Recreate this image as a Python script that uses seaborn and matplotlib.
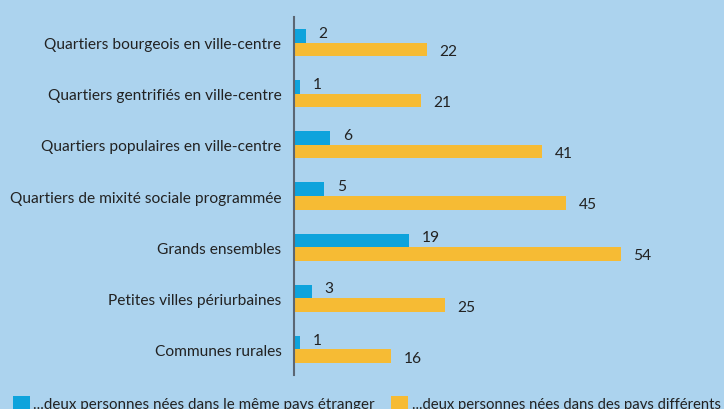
import matplotlib
matplotlib.use("Agg")
import matplotlib.pyplot as plt
import seaborn as sns
import pandas as pd
from matplotlib.patches import Rectangle

categories = [
    "Quartiers bourgeois en ville-centre",
    "Quartiers gentrifiés en ville-centre",
    "Quartiers populaires en ville-centre",
    "Quartiers de mixité sociale programmée",
    "Grands ensembles",
    "Petites villes périurbaines",
    "Communes rurales",
]
same_country = [2, 1, 6, 5, 19, 3, 1]
diff_country = [22, 21, 41, 45, 54, 25, 16]
series_names = [
    "...deux personnes nées dans le même pays étranger",
    "...deux personnes nées dans des pays différents",
]

bg = "#acd3ee"
colors = ["#0ea3dc", "#f6bb34"]

df = pd.DataFrame({
    "cat": categories * 2,
    "val": same_country + diff_country,
    "serie": [series_names[0]] * len(categories) + [series_names[1]] * len(categories),
})

sns.set_theme(style="white")
plt.rcParams["font.family"] = ["Lato", "DejaVu Sans"]

W, H = 724, 410
fig = plt.figure(figsize=(W / 100, H / 100), dpi=100, facecolor=bg)
ax = fig.add_axes([294 / W, 1 - 376 / H, 423.5 / W, 358 / H])
ax.set_facecolor(bg)

sns.barplot(data=df, y="cat", x="val", hue="serie", orient="h",
            palette=colors, width=0.53, ax=ax, legend=False,
            saturation=1, linewidth=0)

fs = 11.2
ax.set_xlim(0, 70)
ax.set_xlabel("")
ax.set_ylabel("")
ax.set_xticks([])
ax.tick_params(axis="y", length=0, pad=9, labelsize=fs, labelcolor="#222222")
for s in ["top", "right", "bottom"]:
    ax.spines[s].set_visible(False)
ax.spines["left"].set_color("#5b6673")
ax.spines["left"].set_linewidth(1.5)

for i, cont in enumerate(ax.containers):
    texts = ax.bar_label(cont, padding=9, fontsize=fs, color="#222222")
    dy = -0.06 if i == 0 else 0.03
    for t in texts:
        x, y = t.xy
        t.xy = (x, y + dy)

# legend drawn at bottom (partly cut by the figure edge, as in the reference)
renderer = fig.canvas.get_renderer()
leg_specs = [(12.7, 33, 339), (391, 412, 310)]
for (sq_x, tx_x, target_w), c, name in zip(leg_specs, colors, series_names):
    fig.patches.append(Rectangle((sq_x / W, 1 - 414 / H), 17 / W, 17 / H,
                                 transform=fig.transFigure, facecolor=c,
                                 edgecolor="none"))
    t = fig.text(tx_x / W, 1 - 409 / H, name, fontsize=11, color="#222222",
                 ha="left", va="baseline")
    w = t.get_window_extent(renderer).width
    t.set_fontsize(11 * target_w / w)

fig.savefig("out.png", dpi=100, facecolor=bg)
